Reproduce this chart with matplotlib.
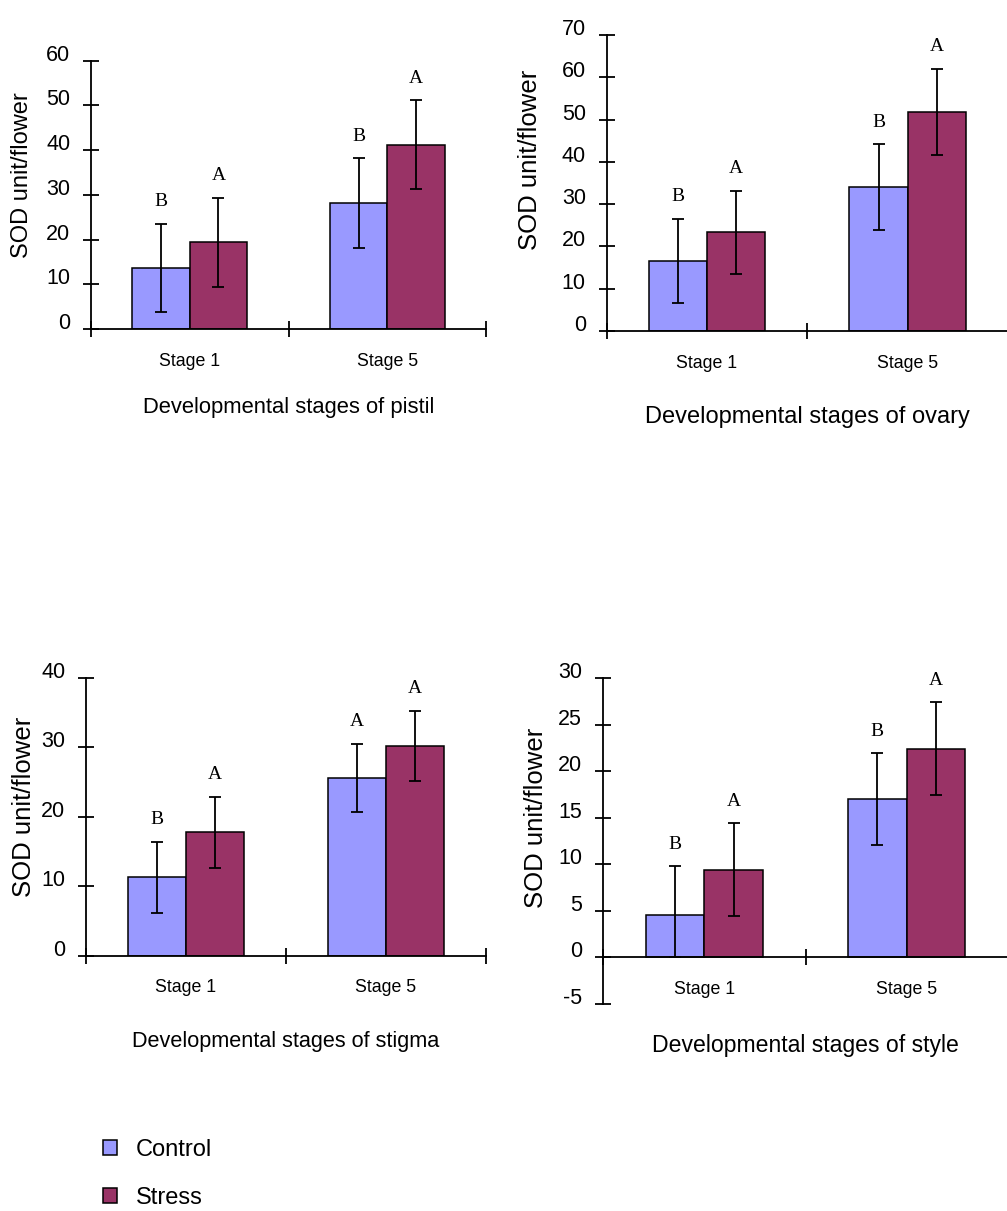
import numpy as np
import matplotlib
matplotlib.use("Agg")
import matplotlib.pyplot as plt

plt.rcParams['font.family'] = ['Liberation Sans', 'DejaVu Sans']
plt.rcParams['ytick.alignment'] = 'baseline'
plt.rcParams['axes.unicode_minus'] = False

stages = ['Stage 1', 'Stage 5']

pistil_control = [13.6, 28.2]
pistil_control_err = [9.9, 10.0]
pistil_stress = [19.4, 41.2]
pistil_stress_err = [9.9, 9.9]
pistil_letters = [['B', 'B'], ['A', 'A']]

ovary_control = [16.6, 34.0]
ovary_control_err = [9.9, 10.2]
ovary_stress = [23.3, 51.8]
ovary_stress_err = [9.9, 10.2]
ovary_letters = [['B', 'B'], ['A', 'A']]

stigma_control = [11.3, 25.6]
stigma_control_err = [5.1, 4.9]
stigma_stress = [17.8, 30.2]
stigma_stress_err = [5.1, 5.1]
stigma_letters = [['B', 'A'], ['A', 'A']]

style_control = [4.6, 17.0]
style_control_err = [5.2, 4.9]
style_stress = [9.4, 22.4]
style_stress_err = [5.0, 5.0]
style_letters = [['B', 'B'], ['A', 'A']]

ctrl_color = '#9999FF'
stress_color = '#993366'

W, H = 1007, 1211
fig = plt.figure(figsize=(W / 100, H / 100), dpi=100)


def make_axes(left, right, bottom, top):
    # pixel coords -> figure fraction
    return fig.add_axes([left / W, 1 - bottom / H, (right - left) / W, (bottom - top) / H])


def panel(ax, control, control_err, stress, stress_err, letters, ylim, yticks,
          xlabel, xlabel_off, xlabel_size, ylabel_xy, ylabel_size):
    x = np.arange(len(stages)) + 0.5
    width = 0.29
    ctrl_lo = [min(e, v) for v, e in zip(control, control_err)]
    b1 = ax.bar(x - width / 2, control, width, color=ctrl_color, edgecolor='black', linewidth=1.1, zorder=2)
    b2 = ax.bar(x + width / 2, stress, width, color=stress_color, edgecolor='black', linewidth=1.1, zorder=2)
    ax.errorbar(x - width / 2, control, yerr=[ctrl_lo, control_err], fmt='none', ecolor='black',
                elinewidth=1.3, capsize=4.5, capthick=1.3, zorder=3)
    ax.errorbar(x + width / 2, stress, yerr=stress_err, fmt='none', ecolor='black',
                elinewidth=1.3, capsize=4.5, capthick=1.3, zorder=3)
    for i in range(len(stages)):
        ax.annotate(letters[0][i], xy=(x[i] - width / 2, control[i] + control_err[i]),
                    xytext=(0, 22), textcoords='offset pixels', ha='center', va='center',
                    fontsize=14, family='Liberation Serif')
        ax.annotate(letters[1][i], xy=(x[i] + width / 2, stress[i] + stress_err[i]),
                    xytext=(0, 22), textcoords='offset pixels', ha='center', va='center',
                    fontsize=14, family='Liberation Serif')

    ax.set_xlim(0, len(stages))
    ax.set_ylim(*ylim)
    ax.set_yticks(yticks)
    ax.set_xticks([0, 1, 2])
    ax.set_xticklabels([])
    ax.set_xticks(x, minor=True)
    ax.set_xticklabels(stages, minor=True)
    ax.tick_params(axis='x', which='major', direction='inout', length=11, width=1.3)
    ax.tick_params(axis='x', which='minor', length=0, pad=17, labelsize=12.8)
    ax.tick_params(axis='y', direction='inout', length=12, width=1.3, pad=9, labelsize=15.5)
    for s in ['top', 'right']:
        ax.spines[s].set_visible(False)
    ax.spines['bottom'].set_position(('data', 0))
    ax.spines['left'].set_linewidth(1.3)
    ax.spines['bottom'].set_linewidth(1.3)
    ax.patch.set_alpha(0)

    ax.set_ylabel('SOD unit/flower', fontsize=ylabel_size, va='center')
    ax.yaxis.set_label_coords(*ylabel_xy)
    ax.annotate(xlabel, xy=(0.5, 0), xycoords=('axes fraction', 'data'),
                xytext=(0, -xlabel_off), textcoords='offset pixels',
                ha='center', va='center', fontsize=xlabel_size)
    return b1, b2


ax1 = make_axes(91, 486, 329, 60.7)
h = panel(ax1, pistil_control, pistil_control_err, pistil_stress, pistil_stress_err, pistil_letters,
          (0, 60), range(0, 61, 10), 'Developmental stages of pistil', 78, 15.8, (-0.175, 0.574), 17)

ax2 = make_axes(606.7, 1008, 331, 35)
panel(ax2, ovary_control, ovary_control_err, ovary_stress, ovary_stress_err, ovary_letters,
      (0, 70), range(0, 71, 10), 'Developmental stages of ovary', 86, 17, (-0.191, 0.578), 18.5)

ax3 = make_axes(86, 486, 955.7, 678)
panel(ax3, stigma_control, stigma_control_err, stigma_stress, stigma_stress_err, stigma_letters,
      (0, 40), range(0, 41, 10), 'Developmental stages of stigma', 86, 15.6, (-0.155, 0.535), 18.5)

ax4 = make_axes(603, 1008, 1004, 678)
panel(ax4, style_control, style_control_err, style_stress, style_stress_err, style_letters,
      (-5, 30), range(-5, 31, 5), 'Developmental stages of style', 88, 16.6, (-0.165, 0.571), 18.5)

fig.legend(h, ['Control', 'Stress'], loc='center left', bbox_to_anchor=(103 / W, 1 - 1174 / H),
           frameon=False, fontsize=17, handlelength=0.6, handleheight=0.6, handletextpad=0.8,
           labelspacing=1.1, borderpad=0, borderaxespad=0)

fig.savefig('out.png', dpi=100)
